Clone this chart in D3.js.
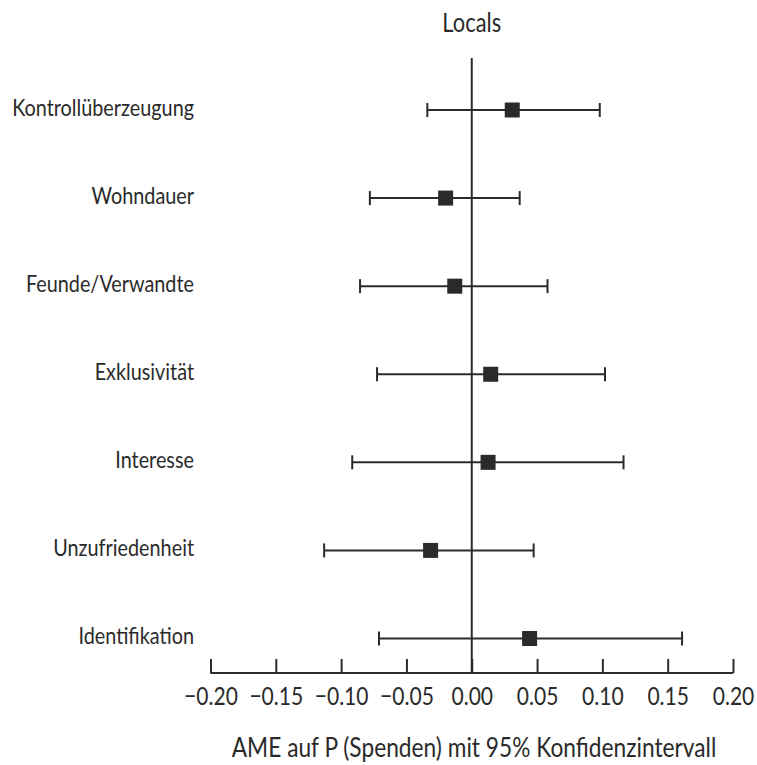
<!DOCTYPE html>
<html>
<head>
<meta charset="utf-8">
<script src="https://cdn.jsdelivr.net/npm/d3@7"></script>
<style>
  body { margin: 0; background: white; }
  text { font-family: Lato, "Liberation Sans", sans-serif; fill: #2a2a2a; }
</style>
</head>
<body>
<script>
var CANVAS_WIDTH = 757;
var CANVAS_HEIGHT = 765;

var categories = ["Kontrollüberzeugung", "Wohndauer", "Feunde/Verwandte", "Exklusivität",
                  "Interesse", "Unzufriedenheit", "Identifikation"];
var estimates = [0.031, -0.020, -0.013, 0.0145, 0.0125, -0.0315, 0.0443];
var lowerCI   = [-0.034, -0.078, -0.0855, -0.0725, -0.0915, -0.113, -0.071];
var upperCI   = [0.098, 0.0367, 0.058, 0.102, 0.1162, 0.0474, 0.161];
var tickValues = [-0.20, -0.15, -0.10, -0.05, 0.00, 0.05, 0.10, 0.15, 0.20];

var rows = categories.map(function(c, i) {
    return { label: c, est: estimates[i], lo: lowerCI[i], hi: upperCI[i] };
});

var canvas = d3.select("body")
                .append("svg")
                .attr("width", CANVAS_WIDTH)
                .attr("height", CANVAS_HEIGHT);

var x = d3.scaleLinear().domain([-0.2, 0.2]).range([210.5, 733]);
var y = d3.scalePoint().domain(categories).range([110, 638.5]);

var INK = "#2b2b2b";
var AXIS_Y = 673;

/* The reference uses a condensed face; none is installed, so squeeze the
   text horizontally so the longest label gets its original width (~182px). */
var probe = canvas.append("text").attr("font-size", "24px").text(categories[0]);
var SQUEEZE = 182 / probe.node().getComputedTextLength();
probe.remove();

function drawText(parent, str, px, py, anchor, size) {
    return parent.append("text")
        .attr("transform", "translate(" + px + "," + py + ") scale(" + SQUEEZE + ",1)")
        .attr("text-anchor", anchor)
        .attr("font-size", size + "px")
        .text(str);
}

// title
drawText(canvas, "Locals", x(0), 32, "middle", 26.5);

// zero reference line
canvas.append("line")
    .attr("x1", x(0)).attr("x2", x(0))
    .attr("y1", 58).attr("y2", AXIS_Y)
    .attr("stroke", INK)
    .attr("stroke-width", 2);

// x axis, ticks pointing up
var axis = d3.axisTop(x)
    .tickValues(tickValues)
    .tickSize(14)
    .tickSizeOuter(0)
    .tickFormat(function(d) { return d3.format(".2f")(d).replace("-", "\u2212"); });

var g = canvas.append("g")
    .attr("transform", "translate(0," + AXIS_Y + ")")
    .call(axis);
g.select(".domain").attr("stroke", INK).attr("stroke-width", 2)
    .attr("d", "M" + x(-0.2) + ",0H" + x(0.2));
g.selectAll(".tick line").attr("stroke", INK).attr("stroke-width", 2);
g.selectAll(".tick text").remove();
g.selectAll(".tick").each(function(d) {
    drawText(d3.select(this), axis.tickFormat()(d), 0, 32, "middle", 25.5);
});

// axis title
drawText(canvas, "AME auf P (Spenden) mit 95% Konfidenzintervall", 474, 757, "middle", 27.5);

// category labels
rows.forEach(function(d) {
    drawText(canvas, d.label, 194, y(d.label) + 5.5, "end", 24);
});

// confidence intervals
var bars = canvas.selectAll(".ci")
    .data(rows)
    .enter().append("g")
    .attr("class", "ci");

bars.append("line")
    .attr("x1", function(d) { return x(d.lo); })
    .attr("x2", function(d) { return x(d.hi); })
    .attr("y1", function(d) { return y(d.label); })
    .attr("y2", function(d) { return y(d.label); })
    .attr("stroke", INK)
    .attr("stroke-width", 2);

["lo", "hi"].forEach(function(k) {
    bars.append("line")
        .attr("x1", function(d) { return x(d[k]); })
        .attr("x2", function(d) { return x(d[k]); })
        .attr("y1", function(d) { return y(d.label) - 7; })
        .attr("y2", function(d) { return y(d.label) + 7; })
        .attr("stroke", INK)
        .attr("stroke-width", 2);
});

// point estimates
var SQ = 15;
bars.append("rect")
    .attr("x", function(d) { return x(d.est) - SQ / 2; })
    .attr("y", function(d) { return y(d.label) - SQ / 2; })
    .attr("width", SQ)
    .attr("height", SQ)
    .attr("fill", "#2a2a2a");
</script>
</body>
</html>
